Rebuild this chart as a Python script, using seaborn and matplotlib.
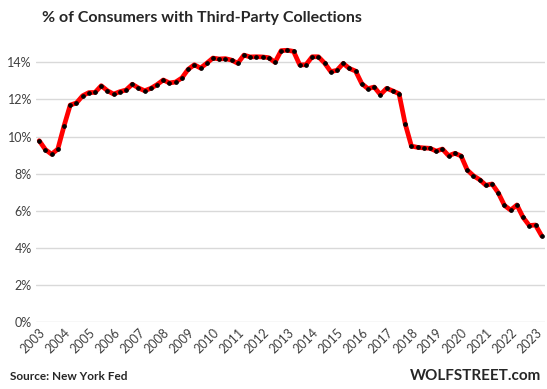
import numpy as np
import pandas as pd
import matplotlib
matplotlib.use("Agg")
import matplotlib.pyplot as plt
import seaborn as sns

# % of consumers with third-party collections, quarterly 2003Q1 - 2023Q2
pct = [9.78, 9.30, 9.05, 9.33, 10.57, 11.70, 11.81, 12.20, 12.37, 12.38,
       12.74, 12.47, 12.29, 12.42, 12.51, 12.82, 12.62, 12.47, 12.60, 12.80,
       13.05, 12.89, 12.94, 13.16, 13.62, 13.87, 13.69, 13.95, 14.23, 14.18,
       14.20, 14.12, 13.95, 14.39, 14.29, 14.30, 14.29, 14.25, 14.00, 14.63,
       14.65, 14.59, 13.86, 13.87, 14.30, 14.30, 13.96, 13.50, 13.57, 13.94,
       13.67, 13.53, 12.85, 12.58, 12.67, 12.26, 12.60, 12.46, 12.31, 10.68,
       9.49, 9.42, 9.39, 9.37, 9.22, 9.33, 8.97, 9.10, 8.96, 8.20,
       7.89, 7.68, 7.38, 7.45, 6.97, 6.29, 6.04, 6.32, 5.65, 5.21,
       5.24, 4.65]
years = list(range(2003, 2024))

df = pd.DataFrame({"q": np.arange(len(pct)), "pct": pct})

sns.set_style("white")
plt.rcParams["font.family"] = ["Lato", "DejaVu Sans"]

fig = plt.figure(figsize=(5.47, 3.89), dpi=100)
ax = fig.add_axes([0.066, 0.1715, 0.930, 0.716])

sns.lineplot(data=df, x="q", y="pct", ax=ax, color="#ff0000", linewidth=3.4,
             marker="o", markersize=2.6, markerfacecolor="black",
             markeredgecolor="black", zorder=3)

ax.set_xlim(-0.5, len(pct) - 0.5)
ax.set_ylim(0, 15)
ax.set_yticks(range(0, 15, 2))
ax.set_yticklabels([f"{v}%" for v in range(0, 15, 2)], fontsize=9, color="#404040")
ax.set_xticks([i * 4 for i in range(len(years))])
ax.set_xticklabels([str(y) for y in years], rotation=45, ha="right",
                   rotation_mode="anchor", fontsize=9, color="#404040")
ax.tick_params(axis="both", length=0, pad=3)
ax.grid(axis="y", color="#d9d9d9", linewidth=1)
ax.set_axisbelow(True)
for s in ax.spines.values():
    s.set_visible(False)
ax.set_xlabel("")
ax.set_ylabel("")

fig.text(0.077, 0.955, "% of Consumers with Third-Party Collections",
         fontsize=11.5, fontweight="bold", ha="left", va="center")
fig.text(0.018, 0.033, "Source: New York Fed", fontsize=8.5, fontweight="bold",
         ha="left", va="center")
fig.text(0.99, 0.033, "WOLFSTREET.com", fontsize=11, fontweight="bold",
         ha="right", va="center")

fig.savefig("out.png", dpi=100)
